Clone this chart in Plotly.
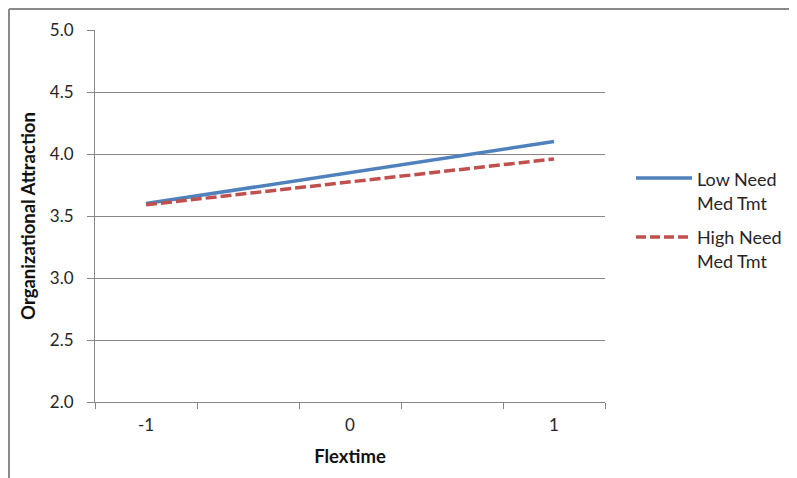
import plotly.graph_objects as go

x_vals = [-1, 1]
low_need = [3.60, 4.10]
high_need = [3.59, 3.96]
series_names = ["Low Need", "High Need"]
series_sub = ["Med Tmt", "Med Tmt"]
x_ticks = [-1, 0, 1]
x_tick_labels = ["-1", "0", "1"]
y_ticks = [2.0, 2.5, 3.0, 3.5, 4.0, 4.5, 5.0]

# page body has an 8px margin; figure coords = screen coords - 8
OFF = 8
W, H = 797 - OFF, 478 - OFF
L, R, T, B = 95 - OFF, 605 - OFF, 30 - OFF, 402 - OFF

def px(xs):
    return (xs - OFF - L) / (R - L)

def py(ys):
    return (B - (ys - OFF)) / (B - T)

FONT = "Lato, Calibri, Carlito, Liberation Sans, sans-serif"
GRID = "#868686"
TXT = "#262626"
BLUE = "#4F81BD"
RED = "#C0504D"

fig = go.Figure()
fig.add_trace(go.Scatter(x=x_vals, y=low_need, mode="lines", name=series_names[0],
                         line=dict(color=BLUE, width=3.5), showlegend=False))
fig.add_trace(go.Scatter(x=x_vals, y=high_need, mode="lines", name=series_names[1],
                         line=dict(color=RED, width=3.5, dash="11px,4px"), showlegend=False))

shapes = [
    # outer chart border (top and left visible)
    dict(type="line", xref="paper", yref="paper", x0=px(9), x1=px(800), y0=py(9), y1=py(9),
         line=dict(color="#8a8a8a", width=2)),
    dict(type="line", xref="paper", yref="paper", x0=px(9), x1=px(9), y0=py(9), y1=py(480),
         line=dict(color="#8a8a8a", width=2)),
    # legend samples
    dict(type="line", xref="paper", yref="paper", x0=px(636), x1=px(692), y0=py(178), y1=py(178),
         line=dict(color=BLUE, width=3.5)),
    dict(type="line", xref="paper", yref="paper", x0=px(636), x1=px(692), y0=py(237), y1=py(237),
         line=dict(color=RED, width=3.5, dash="10px,4px")),
]

annotations = []
for name, sub, yc in [(series_names[0], series_sub[0], 179), (series_names[1], series_sub[1], 237)]:
    annotations.append(dict(text=name, xref="paper", yref="paper", x=px(695), y=py(yc),
                            xanchor="left", yanchor="middle", showarrow=False,
                            font=dict(family=FONT, size=18, color=TXT)))
    annotations.append(dict(text=sub, xref="paper", yref="paper", x=px(695), y=py(yc + 24),
                            xanchor="left", yanchor="middle", showarrow=False,
                            font=dict(family=FONT, size=18, color=TXT)))

fig.update_layout(
    width=W, height=H,
    margin=dict(l=L, r=W - R, t=T, b=H - B),
    plot_bgcolor="white", paper_bgcolor="white",
    font=dict(family=FONT, size=17, color=TXT),
    showlegend=False,
    xaxis=dict(range=[-1.25, 1.25], tickvals=x_ticks, ticktext=x_tick_labels,
               ticks="", showgrid=False, zeroline=False,
               showline=True, linecolor=GRID, linewidth=1,
               minor=dict(tickvals=[-1.25, -0.75, -0.25, 0.25, 0.75, 1.25],
                          ticks="outside", ticklen=6, tickcolor=GRID, showgrid=False),
               ticklabelstandoff=8,
               title=dict(text="<b>Flextime</b>", font=dict(size=18.5, color="#111"), standoff=15),
               automargin=False, fixedrange=True),
    yaxis=dict(range=[2.0, 5.0], tickvals=y_ticks,
               tickformat=".1f", ticks="outside", ticklen=7, tickcolor=GRID,
               showgrid=True, gridcolor=GRID, gridwidth=1, zeroline=False,
               showline=True, linecolor=GRID, linewidth=1,
               ticklabelstandoff=10,
               title=dict(text="<b>Organizational Attraction</b>", font=dict(size=18.5, color="#111"), standoff=9),
               automargin=False, fixedrange=True),
    shapes=shapes,
    annotations=annotations,
)

fig.write_html("out.html")
